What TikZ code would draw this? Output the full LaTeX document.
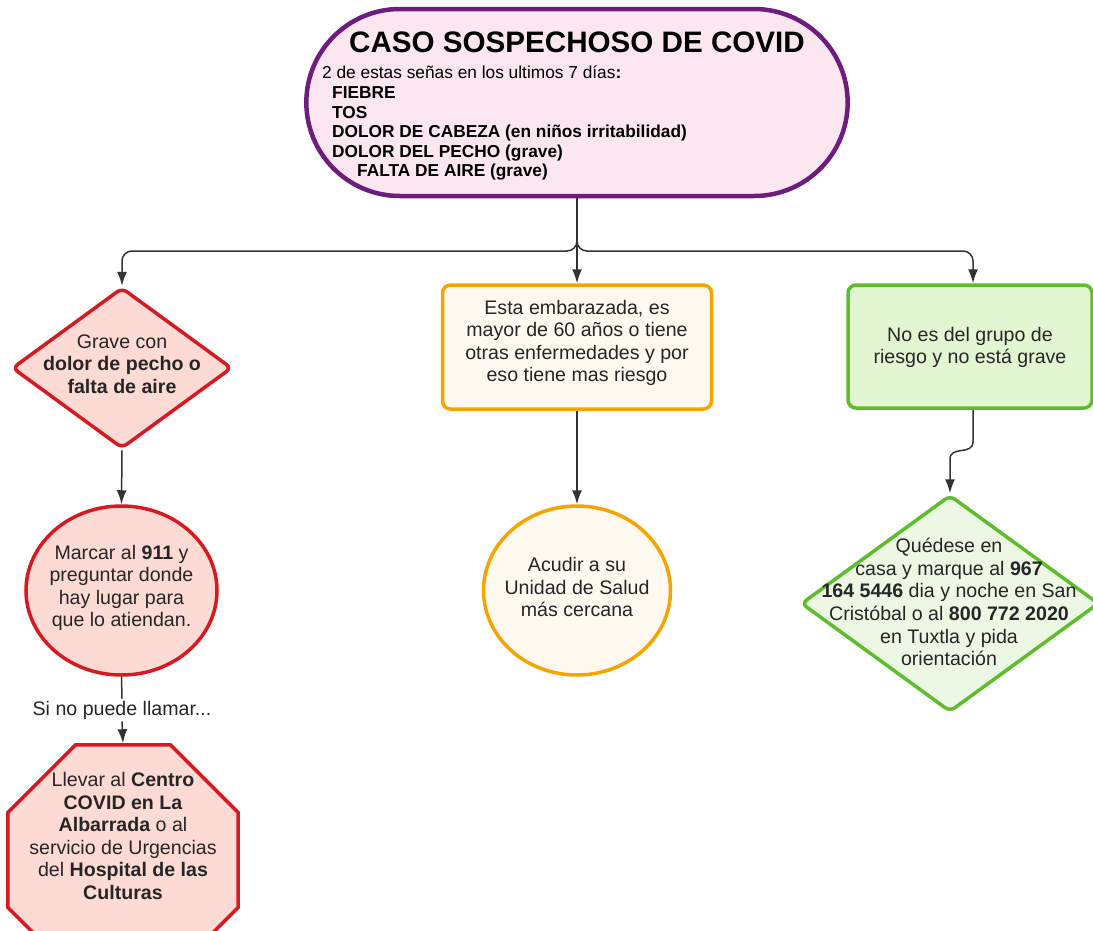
\documentclass[tikz,border=0pt]{standalone}
\usepackage{fontspec}
\setmainfont{Liberation Sans}
\usetikzlibrary{shapes.geometric,shapes.misc}
\usetikzlibrary{arrows.meta}
\tikzset{>={Latex[width=10pt,length=14pt]}}
\definecolor{purpleline}{HTML}{6C1D7D}
\definecolor{purplefill}{HTML}{FCE6EF}
\definecolor{redline}{HTML}{D71A21}
\definecolor{redfill}{HTML}{FDDAD3}
\definecolor{orangeline}{HTML}{F6A500}
\definecolor{orangefill}{HTML}{FFF9F0}
\definecolor{greenline}{HTML}{5EBD2C}
\definecolor{greenfill}{HTML}{E3F6D2}
\definecolor{greenpale}{HTML}{EDF8E4}
\definecolor{linkgray}{HTML}{333333}
\newcommand{\B}[1]{\textbf{#1}}

\tikzset{
  txt/.style={align=center, inner sep=0pt, text=black!85,
    font=\fontsize{19.6}{22.6}\selectfont},
  redshape/.style={draw=redline, fill=redfill, line width=3.5pt},
  orangeshape/.style={draw=orangeline, fill=orangefill, line width=3.5pt},
  greenshape/.style={draw=greenline, fill=greenfill, line width=3.5pt},
  link/.style={draw=linkgray, line width=1.5pt}
}

\begin{document}
\begin{tikzpicture}[x=1pt,y=-1pt]
  \useasboundingbox (0,0) rectangle (1093,930);
  \clip (0,0) rectangle (1093,930);

  %% top case
  \node[rounded rectangle, draw=purpleline, fill=purplefill, line width=4.5pt,
    minimum width=548pt, minimum height=187pt] (caso) at (577,102.5) {};
  \node[inner sep=0pt, font=\fontsize{29.6}{32}\selectfont\bfseries]
    (titulo) at (577,42) {CASO SOSPECHOSO DE COVID};
  \node[anchor=north west, inner sep=0pt, align=left,
    font=\fontsize{17.3}{19.6}\selectfont] (senas) at (322,66)
    {2 de estas señas en los ultimos 7 días\B{:}\\
     \bfseries\hspace{10pt}FIEBRE\\
     \bfseries\hspace{10pt}TOS\\
     \bfseries\hspace{10pt}DOLOR DE CABEZA (en niños irritabilidad)\\
     \bfseries\hspace{10pt}DOLOR DEL PECHO (grave)\\
     \bfseries\hspace{35pt}FALTA DE AIRE (grave)};

  %% left column
  \node[diamond, redshape, rounded corners=6pt, inner sep=0pt, aspect=1.37,
    minimum width=220pt, minimum height=161pt] (grave) at (122,368) {};
  \node[txt] (gravetxt) at (122,364)
    {Grave con\\ \B{dolor de pecho o}\\ \B{falta de aire}};

  \node[ellipse, redshape, minimum width=191pt, minimum height=169pt]
    (marcar) at (121.5,590.5) {};
  \node[txt] (marcartxt) at (121.5,588)
    {Marcar al \B{911} y\\ preguntar donde\\ hay lugar para\\ que lo atiendan.};

  \node[txt, fill=white, inner sep=2pt] (llamar) at (122,710) {Si no puede llamar...};

  \node[regular polygon, regular polygon sides=8, redshape,
    minimum size=249pt, inner sep=0pt] (llevar) at (123,860) {};
  \node[txt] (llevartxt) at (123,836)
    {Llevar al \B{Centro}\\ \B{COVID en La}\\ \B{Albarrada} o al\\
     servicio de Urgencias\\ del \B{Hospital de las}\\ \B{Culturas}};

  %% middle column
  \node[rectangle, orangeshape, rounded corners=8pt,
    minimum width=269pt, minimum height=124pt] (riesgo) at (577,347) {};
  \node[txt] (riesgotxt) at (577,343)
    {Esta embarazada, es\\ mayor de 60 años o tiene\\
     otras enfermedades y por\\ eso tiene mas riesgo};

  \node[ellipse, orangeshape, minimum width=187pt, minimum height=169pt]
    (acudir) at (577,590.5) {};
  \node[txt] (acudirtxt) at (577,587)
    {Acudir a su\\ Unidad de Salud\\ más cercana};

  %% right column
  \node[rectangle, greenshape, rounded corners=8pt,
    minimum width=244pt, minimum height=123pt] (nogrupo) at (970,346.5) {};
  \node[txt] (nogrupotxt) at (970,347.5)
    {No es del grupo de\\ riesgo y no está grave};

  \node[diamond, greenshape, fill=greenpale, rounded corners=6pt, inner sep=0pt,
    aspect=1.37, minimum width=298pt, minimum height=217pt] (quedese) at (950,603.5) {};
  \node[txt] (quedesetxt) at (949,602)
    {Quédese en\\ casa y marque al \B{967}\\ \B{164 5446} dia y noche en San\\
     Cristóbal o al \B{800 772 2020}\\ en Tuxtla y pida\\ orientación};

  %% connectors
  \coordinate (junct) at (577,251);
  \draw[link,->,rounded corners=10pt] (caso.south) -- (junct) -| (grave.north);
  \draw[link,->,rounded corners=10pt] (caso.south) -- (junct) -| ([xshift=3pt]nogrupo.north);
  \draw[link,->] (caso.south) -- (riesgo.north);

  \draw[link,->] (grave.south) -- (marcar.north);
  \draw[link] (marcar.south) -- (llamar.north);
  \draw[link,->] (llamar.south) -- (llevar.north);

  \draw[link,->] (riesgo.south) -- (acudir.north);

  \draw[link,->] ([xshift=3pt]nogrupo.south) -- ++(0,32)
    .. controls +(0,14) and +(0,-14) .. ([yshift=34pt]quedese.north)
    -- (quedese.north);
\end{tikzpicture}
\end{document}
